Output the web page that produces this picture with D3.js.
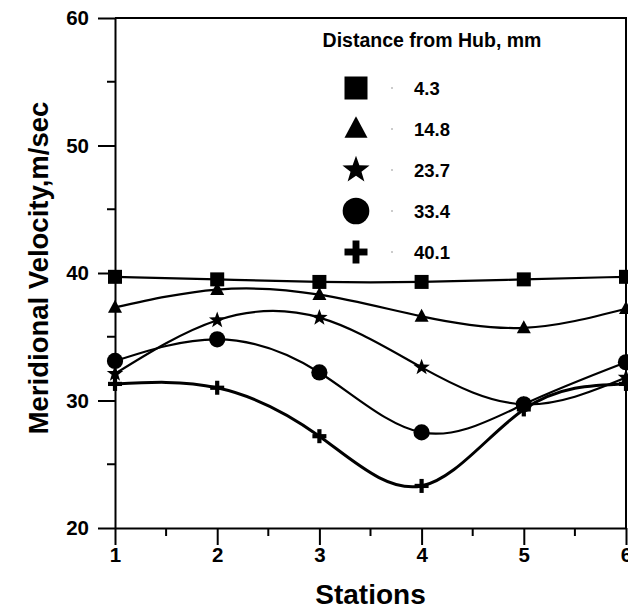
<!DOCTYPE html>
<html>
<head>
<meta charset="utf-8">
<script src="https://cdn.jsdelivr.net/npm/d3@7"></script>
<style>
  body { margin: 0; background: #fff; }
  svg { display: block; font-family: "Liberation Sans", Arial, sans-serif; font-weight: bold; }
</style>
</head>
<body>
<div id="app"></div>
<script>
// data
const stations = [1, 2, 3, 4, 5, 6]
const hubDistances = ["4.3", "14.8", "23.7", "33.4", "40.1"]
const v43 = [39.7, 39.5, 39.3, 39.3, 39.5, 39.7]
const v148 = [37.3, 38.7, 38.3, 36.6, 35.7, 37.2]
const v237 = [32.1, 36.3, 36.5, 32.6, 29.7, 31.8]
const v334 = [33.1, 34.8, 32.2, 27.5, 29.7, 33.0]
const v401 = [31.3, 31.0, 27.2, 23.3, 29.3, 31.3]
const yTicks = [20, 30, 40, 50, 60]
const series = [v43, v148, v237, v334, v401]
const symbols = ["square", "triangle", "star", "circle", "plus"]

// dimensions
const dimensions = {
  width: 628,
  height: 610,
  margin: { top: 18, right: 2, bottom: 82, left: 115 },
}
dimensions.boundedWidth = dimensions.width - dimensions.margin.left - dimensions.margin.right
dimensions.boundedHeight = dimensions.height - dimensions.margin.top - dimensions.margin.bottom

const svg = d3.select("#app").append("svg")
  .attr("width", dimensions.width)
  .attr("height", dimensions.height)

const bounds = svg.append("g")
  .attr("transform", `translate(${dimensions.margin.left},${dimensions.margin.top})`)

// scales
const xScale = d3.scaleLinear().domain([1, 6]).range([0, 511])
const yScale = d3.scaleLinear().domain([20, 60]).range([dimensions.boundedHeight, 0])

// marker drawing
function drawMarker(g, type, x, y, s) {
  if (type === "square") {
    g.append("rect").attr("x", x - s / 2).attr("y", y - s / 2).attr("width", s).attr("height", s).attr("fill", "#000")
  } else if (type === "circle") {
    g.append("circle").attr("cx", x).attr("cy", y).attr("r", s * 0.58).attr("fill", "#000")
  } else if (type === "triangle") {
    g.append("path").attr("d", `M${x},${y - s * 0.55}L${x + s * 0.5},${y + s * 0.38}L${x - s * 0.5},${y + s * 0.38}Z`).attr("fill", "#000")
  } else if (type === "star") {
    const pts = []
    for (let i = 0; i < 10; i++) {
      const r = i % 2 === 0 ? s * 0.62 : s * 0.25
      const a = -Math.PI / 2 + i * Math.PI / 5
      pts.push([x + r * Math.cos(a), y + r * Math.sin(a)])
    }
    g.append("path").attr("d", "M" + pts.join("L") + "Z").attr("fill", "#000")
  } else if (type === "plus") {
    const t = s * 0.3
    g.append("rect").attr("x", x - s / 2).attr("y", y - t / 2).attr("width", s).attr("height", t).attr("fill", "#000")
    g.append("rect").attr("x", x - t / 2).attr("y", y - s / 2).attr("width", t).attr("height", s).attr("fill", "#000")
  }
}

// lines
const line = d3.line()
  .x((d, i) => xScale(stations[i]))
  .y(d => yScale(d))
  .curve(d3.curveNatural)

series.forEach((vals, k) => {
  bounds.append("path")
    .attr("d", line(vals))
    .attr("fill", "none")
    .attr("stroke", "#000")
    .attr("stroke-width", k === 4 ? 3 : 2.2)
  const g = bounds.append("g")
  vals.forEach((v, i) => drawMarker(g, symbols[k], xScale(stations[i]), yScale(v), 14))
})

// frame
bounds.append("path")
  .attr("d", `M0,0H${xScale(6)}V${dimensions.boundedHeight}`)
  .attr("fill", "none").attr("stroke", "#000").attr("stroke-width", 2)

// axes
const xAxis = bounds.append("g")
  .attr("transform", `translate(0,${dimensions.boundedHeight})`)
  .call(d3.axisBottom(xScale).tickValues(stations).tickSize(17).tickSizeOuter(0).tickPadding(2).tickFormat(d3.format("d")))
xAxis.append("g").selectAll("line")
  .data(d3.range(1.5, 6, 1))
  .join("line")
  .attr("x1", d => xScale(d)).attr("x2", d => xScale(d))
  .attr("y1", 0).attr("y2", 8)
  .attr("stroke", "#000").attr("stroke-width", 2)

const yAxis = bounds.append("g")
  .call(d3.axisLeft(yScale).tickValues(yTicks).tickSize(17).tickSizeOuter(0).tickPadding(9))
yAxis.append("g").selectAll("line")
  .data([25, 35, 45, 55])
  .join("line")
  .attr("x1", 0).attr("x2", -8)
  .attr("y1", d => yScale(d)).attr("y2", d => yScale(d))
  .attr("stroke", "#000").attr("stroke-width", 2)

bounds.selectAll(".domain, .tick line").attr("stroke", "#000").attr("stroke-width", 2)
bounds.selectAll(".tick text")
  .attr("fill", "#000")
  .style("font-size", "20.5px")
  .style("font-family", "'Liberation Sans', Arial, sans-serif")
  .style("font-weight", "bold")

// axis titles
svg.append("text")
  .attr("x", dimensions.margin.left + xScale(3.5))
  .attr("y", 604)
  .attr("text-anchor", "middle")
  .style("font-size", "28px")
  .text("Stations")

svg.append("text")
  .attr("transform", `translate(48,268) rotate(-90)`)
  .attr("text-anchor", "middle")
  .style("font-size", "27.5px")
  .text("Meridional Velocity,m/sec")

// legend
const legend = svg.append("g")
legend.append("text")
  .attr("x", 432).attr("y", 47)
  .attr("text-anchor", "middle")
  .style("font-size", "19.5px")
  .text("Distance from Hub, mm")

hubDistances.forEach((label, i) => {
  const y = 88 + i * 41
  drawMarker(legend, symbols[i], 356, y, 23)
  legend.append("line")
    .attr("x1", 391).attr("x2", 393).attr("y1", y).attr("y2", y)
    .attr("stroke", "#999").attr("stroke-width", 1)
  legend.append("text")
    .attr("x", 414).attr("y", y + 7)
    .style("font-size", "18.5px")
    .text(label)
})
</script>
</body>
</html>
